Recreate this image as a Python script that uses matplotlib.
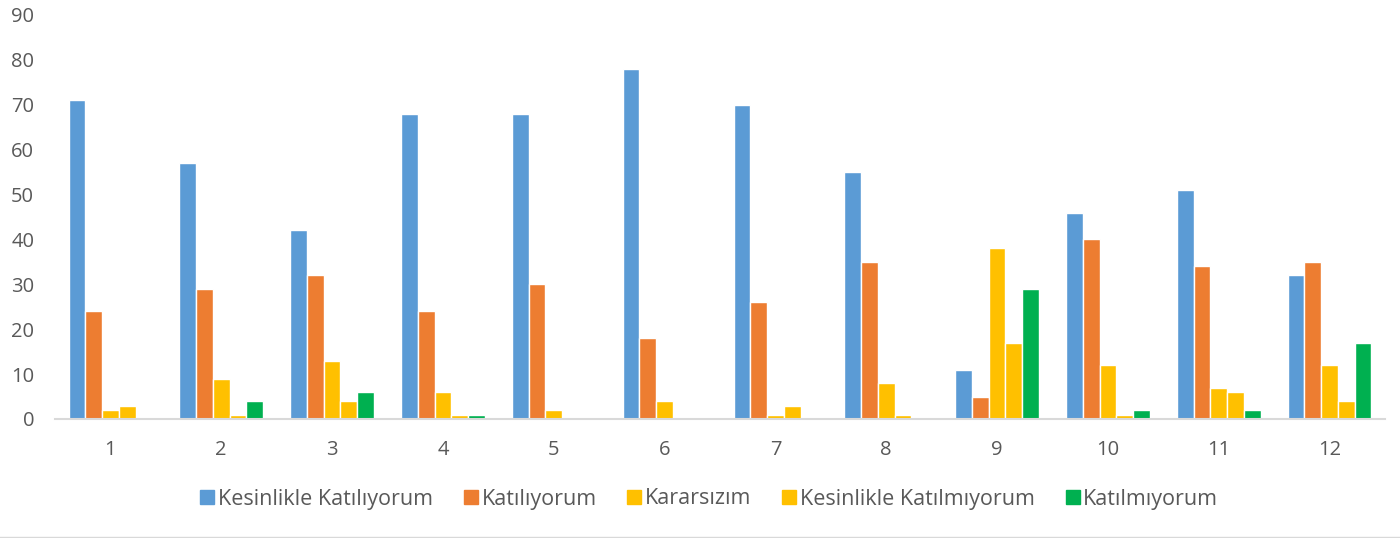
import numpy as np
import matplotlib
matplotlib.use('Agg')
import matplotlib.pyplot as plt
from matplotlib.lines import Line2D

# Veriler
groups = ['1', '2', '3', '4', '5', '6', '7', '8', '9', '10', '11', '12']
series_names = ['Kesinlikle Katılıyorum', 'Katılıyorum', 'Kararsızım',
                'Kesinlikle Katılmıyorum', 'Katılmıyorum']
kesinlikle_katiliyorum = [71, 57, 42, 68, 68, 78, 70, 55, 11, 46, 51, 32]
katiliyorum = [24, 29, 32, 24, 30, 18, 26, 35, 5, 40, 34, 35]
kararsizim = [2, 9, 13, 6, 2, 4, 1, 8, 38, 12, 7, 12]
kesinlikle_katilmiyorum = [3, 1, 4, 1, 0, 0, 3, 1, 17, 1, 6, 4]
katilmiyorum = [0, 4, 6, 1, 0, 0, 0, 0, 29, 2, 2, 17]
colors = ['#5B9BD5', '#ED7D31', '#FFC000', '#FFC000', '#00B050']

all_series = [kesinlikle_katiliyorum, katiliyorum, kararsizim,
              kesinlikle_katilmiyorum, katilmiyorum]

plt.rcParams['font.family'] = ['Open Sans', 'DejaVu Sans']

fig = plt.figure(figsize=(14, 5.38), dpi=100)
ax = fig.add_axes([55 / 1400, 1 - 419 / 538, 1330 / 1400, (419 - 15) / 538])

x = np.arange(len(groups))
step = 0.151
for i, (vals, name, c) in enumerate(zip(all_series, series_names, colors)):
    ax.bar(x + (i - 2) * step, vals, width=step, color=c, label=name,
           edgecolor='white', linewidth=1)

ax.set_xlim(-0.5, len(groups) - 0.5)
ax.set_ylim(0, 90)
ax.set_yticks(range(0, 91, 10))
ax.set_xticks(x)
ax.set_xticklabels(groups)
ax.tick_params(axis='both', length=0, labelsize=14.5, colors='#595959')
ax.tick_params(axis='x', pad=15)
ax.tick_params(axis='y', pad=15)

for s in ['top', 'right', 'left']:
    ax.spines[s].set_visible(False)
ax.spines['bottom'].set_color('#D9D9D9')
ax.spines['bottom'].set_linewidth(1.5)

handles = [Line2D([], [], marker='s', linestyle='none', markersize=9.5,
                  markerfacecolor=c, markeredgecolor=c) for c in colors]
leg = fig.legend(handles, series_names, loc='center', ncol=5,
                 bbox_to_anchor=(708 / 1400, 1 - 499 / 538), frameon=False,
                 fontsize=15.5, handletextpad=0.05, columnspacing=1.3,
                 handlelength=0.9)
for t in leg.get_texts():
    t.set_color('#595959')

fig.add_artist(Line2D([0, 1], [1 - 536.5 / 538] * 2, color='#D9D9D9',
                      linewidth=1, transform=fig.transFigure))

plt.savefig('out.png', dpi=100)
